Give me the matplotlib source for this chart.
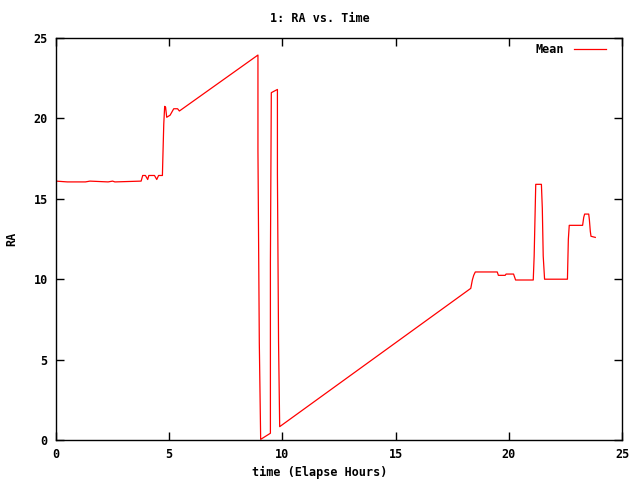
import matplotlib
matplotlib.use('Agg')
import matplotlib.pyplot as plt

# Mean RA vs elapsed time (hours)
time_h = [0.0, 0.5, 1.3, 1.5, 2.3, 2.5, 2.6, 3.76, 3.83, 3.95, 4.05, 4.1, 4.2, 4.35, 4.45, 4.53, 4.7,
          4.72, 4.76, 4.8, 4.84, 4.89, 5.04, 5.2, 5.37, 5.45, 8.92,
          8.92, 8.98, 9.04, 9.47, 9.47, 9.51, 9.78, 9.78, 9.83, 9.88,
          18.32, 18.39, 18.45, 18.52, 19.49, 19.54, 19.84, 19.88, 20.21, 20.3,
          21.08, 21.12, 21.19, 21.44, 21.48, 21.52, 21.58, 22.59, 22.63, 22.67,
          23.26, 23.31, 23.35, 23.53, 23.56, 23.6, 23.63, 23.82]
ra_mean = [16.1, 16.05, 16.05, 16.1, 16.05, 16.1, 16.05, 16.1, 16.45, 16.45, 16.2, 16.45, 16.45, 16.45, 16.2, 16.45, 16.45,
           17.55, 19.65, 20.75, 20.7, 20.07, 20.2, 20.6, 20.6, 20.46, 23.94,
           18.0, 6.05, 0.04, 0.42, 11.03, 21.6, 21.8, 16.54, 6.1, 0.83,
           9.43, 9.95, 10.24, 10.45, 10.45, 10.24, 10.24, 10.32, 10.32, 9.95,
           9.95, 11.44, 15.9, 15.9, 14.41, 11.44, 10.0, 10.0, 12.48, 13.35,
           13.35, 13.85, 14.05, 14.05, 13.68, 12.98, 12.67, 12.6]

mono = 'DejaVu Sans Mono'

fig = plt.figure(figsize=(6.4, 4.8), dpi=100)
ax = fig.add_axes([56/640, 40/480, 566/640, 402/480])
ax.plot(time_h, ra_mean, color='#ff0000', linewidth=0.9, label='Mean')

ax.set_xlim(0, 25)
ax.set_ylim(0, 25)
ax.set_xticks(range(0, 26, 5))
ax.set_yticks(range(0, 26, 5))
ax.tick_params(direction='in', length=6, width=1, top=True, right=True, pad=6)
for lab in ax.get_xticklabels() + ax.get_yticklabels():
    lab.set_family(mono)
    lab.set_fontweight('bold')
    lab.set_fontsize(8.5)
for s in ax.spines.values():
    s.set_linewidth(1)

fig.text(0.5, 1 - 19/480, '1: RA vs. Time', ha='center', va='center',
         family=mono, fontweight='bold', fontsize=8.5)
fig.text(0.5, 1 - 472/480, 'time (Elapse Hours)', ha='center', va='center',
         family=mono, fontweight='bold', fontsize=8.5)
fig.text(12/640, 1 - 239/480, 'RA', ha='center', va='center', rotation=90,
         family=mono, fontweight='bold', fontsize=8.5)

leg = ax.legend(loc='upper right', frameon=False, markerfirst=False,
                handlelength=2.7, borderaxespad=0.3,
                bbox_to_anchor=(1 - 8/566, 1 + 3/402),
                prop={'family': mono, 'weight': 'bold', 'size': 8.5})

fig.savefig('out.png', dpi=100)
